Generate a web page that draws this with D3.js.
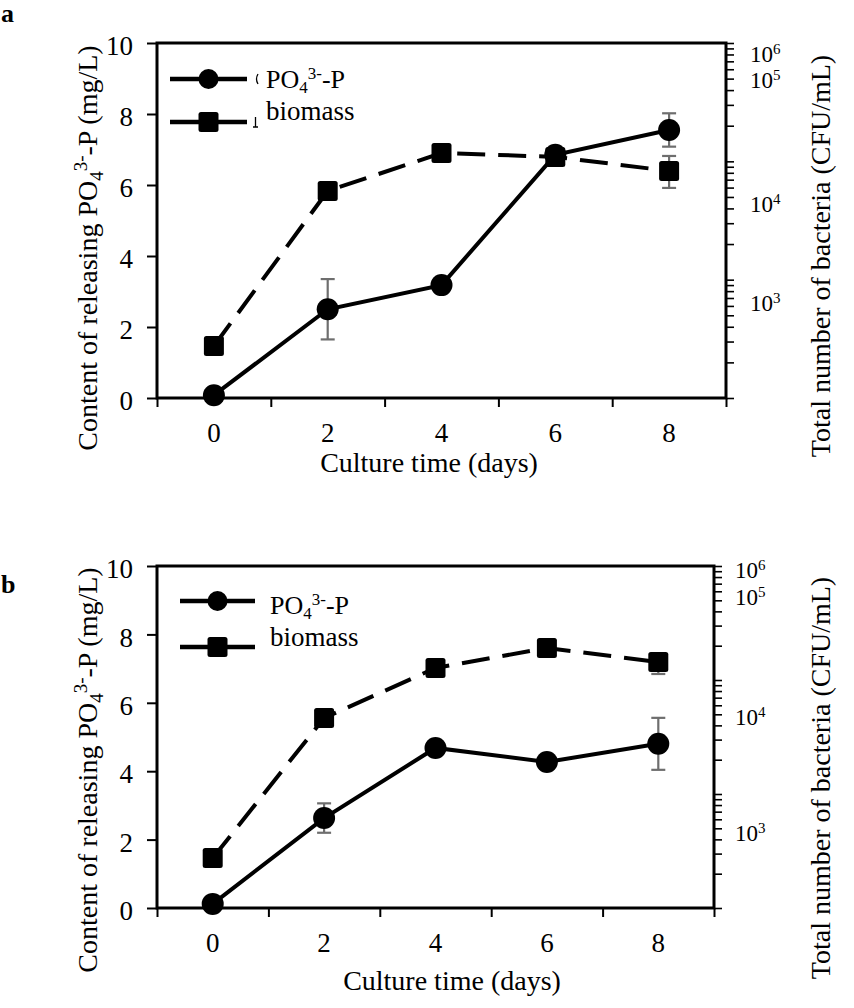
<!DOCTYPE html>
<html><head><meta charset="utf-8">
<script src="https://cdn.jsdelivr.net/npm/d3@7"></script>
<style>
body{margin:0;background:#fff}
svg{display:block}
text{font-family:"Liberation Serif","Times New Roman",Times,serif !important;fill:#000}
</style>
</head><body>
<svg id="chart" width="854" height="1008"></svg>
<script>
// ---------- data ----------
const days = [0, 2, 4, 6, 8];
const xTickLabels = [0, 2, 4, 6, 8];
const xTickMarks = [-1, 1, 3, 5, 7, 9];
const leftTicks = [0, 2, 4, 6, 8, 10];
const rightExps = ["6", "5", "4", "3"];
const seriesNames = ["PO", "biomass"];

// panel a
const poA = [0.08, 2.5, 3.18, 6.85, 7.55];
const poErrA = [0, 0.85, 0, 0, 0.47];
const bioA = [275, 5620, 11750, 10900, 8300];
const bioLoA = [275, 4720, 11750, 10900, 5960];
const bioHiA = [275, 6200, 11750, 10900, 11100];
const rightLabelValsA = [80200, 48300, 4325, 630];

// panel b
const poB = [0.12, 2.63, 4.68, 4.27, 4.8];
const poErrB = [0, 0.43, 0, 0, 0.76];
const bioB = [274, 4640, 12740, 19080, 14380];
const bioLoB = [274, 4640, 12740, 19080, 11290];
const bioHiB = [274, 4640, 12740, 19080, 16500];
const rightLabelValsB = [92250, 53000, 4730, 457];

// ---------- drawing ----------
const svg = d3.select("#chart");
const ERR = "#6e6e6e";
const SERIF = '"Liberation Serif","Times New Roman",Times,serif';

function drawPanel(c) {
  const g = svg.append("g").attr("font-family", SERIF);
  const x = d3.scaleLinear().domain([-1, 9]).range([c.L, c.R]);
  const yL = d3.scaleLinear().domain([0, 10]).range([c.B, c.T]);
  const yR = d3.scaleLog().domain([100, 100000]).range([c.B, c.T]);

  // panel letter
  g.append("text").attr("x", 1).attr("y", c.letterY).attr("font-size", 26)
    .attr("font-weight", "bold").text(c.letter);

  // left axis ticks
  const ax = g.append("g").attr("transform", `translate(${c.L},0)`)
    .call(d3.axisLeft(yL).tickValues(leftTicks).tickSize(10).tickPadding(14));
  ax.attr("font-family", SERIF);
  ax.select(".domain").remove();
  ax.selectAll("line").attr("stroke", "#000").attr("stroke-width", 2);
  ax.selectAll("text").attr("font-size", 27).attr("dy", "0.43em");

  // right axis (log) minor ticks
  const rTicks = [];
  for (let e = 2; e <= 4; e++) for (let k = 1; k <= 9; k++) rTicks.push(k * Math.pow(10, e));
  rTicks.push(100000);
  const ar = g.append("g").attr("transform", `translate(${c.R},0)`)
    .call(d3.axisRight(yR).tickValues(rTicks).tickSize(8).tickFormat(""));
  ar.select(".domain").remove();
  ar.selectAll("line").attr("stroke", "#000").attr("stroke-width", 1.6);

  // right axis labels
  rightExps.forEach((ex, i) => {
    const t = g.append("text").attr("x", c.R + c.rlx).attr("y", yR(c.rightLabels[i]) + 8)
      .attr("font-size", 23);
    t.append("tspan").text("10");
    t.append("tspan").attr("font-size", 15).attr("dy", -8).text(ex);
  });

  // bottom axis tick marks
  const ab = g.append("g").attr("transform", `translate(0,${c.B})`)
    .call(d3.axisBottom(x).tickValues(xTickMarks).tickSize(9).tickFormat(""));
  ab.select(".domain").remove();
  ab.selectAll("line").attr("stroke", "#000").attr("stroke-width", 2);
  g.selectAll(".xl").data(xTickLabels).enter().append("text")
    .attr("x", d => x(d)).attr("y", c.B + 44).attr("font-size", 27)
    .attr("text-anchor", "middle").text(d => d);

  // frame
  g.append("rect").attr("x", c.L).attr("y", c.T).attr("width", c.R - c.L)
    .attr("height", c.B - c.T).attr("fill", "none").attr("stroke", "#000").attr("stroke-width", 3);

  // axis titles
  g.append("text").attr("x", c.xtx).attr("y", c.xty).attr("font-size", 28)
    .attr("text-anchor", "middle").text("Culture time (days)");
  const lt = g.append("text").attr("transform", `translate(97,${c.ltY}) rotate(-90)`)
    .attr("font-size", 28).attr("text-anchor", "middle");
  lt.append("tspan").text("Content of releasing PO");
  lt.append("tspan").attr("font-size", 19).attr("dy", 6).text("4");
  lt.append("tspan").attr("font-size", 19).attr("dy", -16).text("3-");
  lt.append("tspan").attr("font-size", 28).attr("dy", 10).text("-P (mg/L)");
  g.append("text").attr("transform", `translate(830,${c.ltY + 8}) rotate(-90)`)
    .attr("font-size", 28).attr("text-anchor", "middle").text("Total number of bacteria (CFU/mL)");

  const poData = days.map((d, i) => ({d, v: c.po[i], e: c.poErr[i]}));
  const bioData = days.map((d, i) => ({d, v: c.bio[i], lo: c.bioLo[i], hi: c.bioHi[i]}));

  // biomass line (dashed)
  g.append("path").datum(bioData)
    .attr("d", d3.line().x(d => x(d.d)).y(d => yR(d.v)))
    .attr("fill", "none").attr("stroke", "#000").attr("stroke-width", 4)
    .attr("stroke-dasharray", "28,13");
  // PO line (solid)
  g.append("path").datum(poData)
    .attr("d", d3.line().x(d => x(d.d)).y(d => yL(d.v)))
    .attr("fill", "none").attr("stroke", "#000").attr("stroke-width", 4);

  // error bars
  const eb = g.append("g").attr("stroke", ERR).attr("stroke-width", 2.2);
  bioData.filter(d => d.hi > d.lo).forEach(d => {
    eb.append("line").attr("x1", x(d.d)).attr("x2", x(d.d)).attr("y1", yR(d.lo)).attr("y2", yR(d.hi));
    [d.lo, d.hi].forEach(v => eb.append("line").attr("x1", x(d.d) - 7).attr("x2", x(d.d) + 7)
      .attr("y1", yR(v)).attr("y2", yR(v)));
  });
  poData.filter(d => d.e > 0).forEach(d => {
    eb.append("line").attr("x1", x(d.d)).attr("x2", x(d.d)).attr("y1", yL(d.v - d.e)).attr("y2", yL(d.v + d.e));
    [d.v - d.e, d.v + d.e].forEach(v => eb.append("line").attr("x1", x(d.d) - 7).attr("x2", x(d.d) + 7)
      .attr("y1", yL(v)).attr("y2", yL(v)));
  });

  // markers
  g.selectAll(".sq").data(bioData).enter().append("rect")
    .attr("x", d => x(d.d) - 10).attr("y", d => yR(d.v) - 10)
    .attr("width", 20).attr("height", 20).attr("rx", 2.5).attr("fill", "#000");
  g.selectAll(".ci").data(poData).enter().append("circle")
    .attr("cx", d => x(d.d)).attr("cy", d => yL(d.v)).attr("r", 11).attr("fill", "#000");

  // legend
  const lg = c.lg;
  [lg.y1, lg.y2].forEach(y => g.append("line").attr("x1", lg.x0).attr("x2", lg.x1)
    .attr("y1", y).attr("y2", y).attr("stroke", "#000").attr("stroke-width", 4.5));
  const mx = (lg.x0 + lg.x1) / 2;
  g.append("circle").attr("cx", mx).attr("cy", lg.y1).attr("r", 10).attr("fill", "#000");
  g.append("rect").attr("x", mx - 10).attr("y", lg.y2 - 10).attr("width", 20).attr("height", 20)
    .attr("rx", 2.5).attr("fill", "#000");
  const t1 = g.append("text").attr("x", lg.tx).attr("y", lg.ty1).attr("font-size", 26);
  t1.append("tspan").text(seriesNames[0]);
  t1.append("tspan").attr("font-size", 17).attr("dy", 5).text("4");
  t1.append("tspan").attr("font-size", 17).attr("dy", -14).text("3-");
  t1.append("tspan").attr("font-size", 26).attr("dy", 9).text("-P");
  g.append("text").attr("x", lg.tx).attr("y", lg.ty2).attr("font-size", 27).text(seriesNames[1]);

  if (c.artifacts) {
    // remnants of covered legend text (as in the original figure)
    const ax0 = lg.tx - 10;
    g.append("path")
      .attr("d", `M${ax0 + 2},${lg.ty1 - 14} Q${ax0 - 1},${lg.ty1 - 9} ${ax0 + 2},${lg.ty1 - 4}`)
      .attr("fill", "none").attr("stroke", "#000").attr("stroke-width", 1.3);
    g.append("path")
      .attr("d", `M${ax0 - 0.5},${lg.ty2 - 3} L${ax0 - 0.5},${lg.ty2 + 7} M${ax0 - 3},${lg.ty2 + 7} L${ax0 + 2},${lg.ty2 + 7}`)
      .attr("fill", "none").attr("stroke", "#000").attr("stroke-width", 1.3);
  }
}

drawPanel({
  letter: "a", letterY: 22,
  L: 157, R: 726, T: 43, B: 398,
  po: poA, poErr: poErrA, bio: bioA, bioLo: bioLoA, bioHi: bioHiA,
  rightLabels: rightLabelValsA, rlx: 24,
  xtx: 429, xty: 472, ltY: 248,
  lg: {x0: 170, x1: 247, y1: 79, y2: 122, tx: 266, ty1: 88, ty2: 120},
  artifacts: true
});
drawPanel({
  letter: "b", letterY: 593,
  L: 157, R: 714, T: 566, B: 908,
  po: poB, poErr: poErrB, bio: bioB, bioLo: bioLoB, bioHi: bioHiB,
  rightLabels: rightLabelValsB, rlx: 21,
  xtx: 452, xty: 990, ltY: 770,
  lg: {x0: 180, x1: 255, y1: 601, y2: 647, tx: 270, ty1: 614, ty2: 646},
  artifacts: false
});
</script>
</body></html>
